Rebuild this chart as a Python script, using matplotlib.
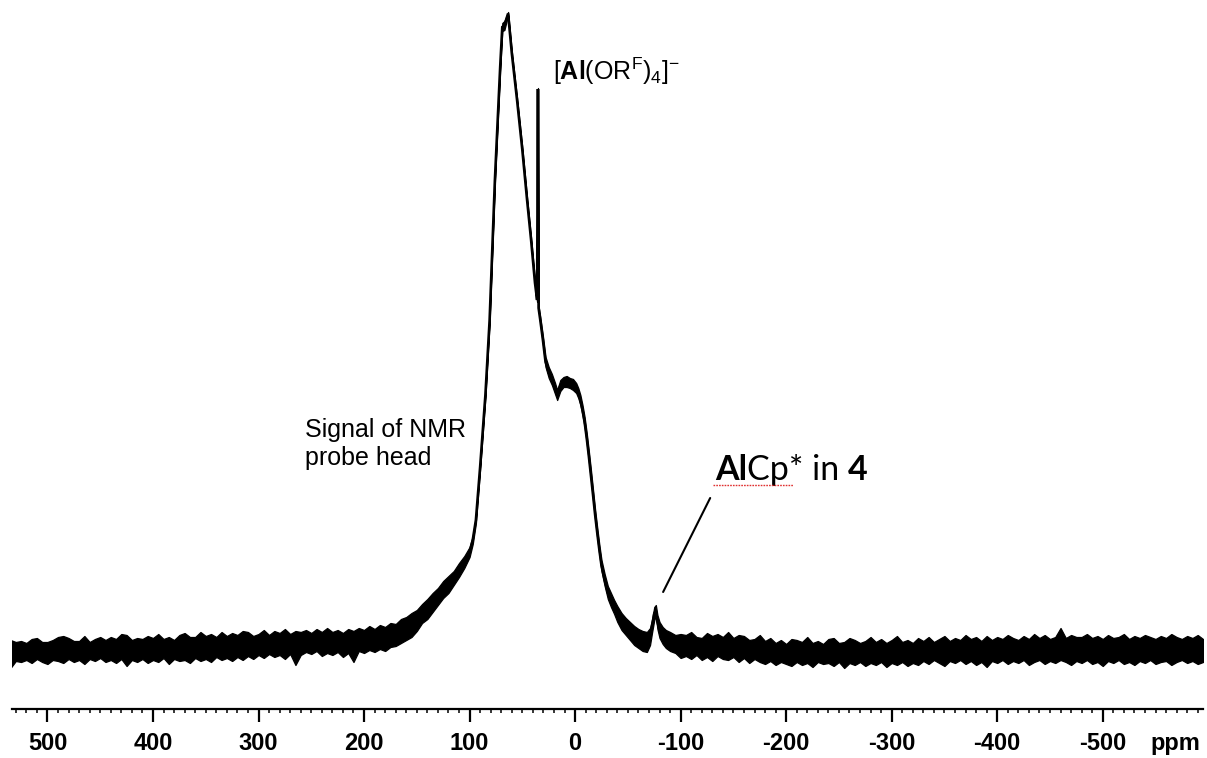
import numpy as np
import matplotlib
matplotlib.use("Agg")
import matplotlib.pyplot as plt
from matplotlib.ticker import MultipleLocator

plt.rcParams['font.family'] = ['Liberation Sans', 'DejaVu Sans']
plt.rcParams['mathtext.fontset'] = 'custom'
plt.rcParams['mathtext.rm'] = 'Liberation Sans'
plt.rcParams['mathtext.bf'] = 'Liberation Sans:bold'
plt.rcParams['mathtext.it'] = 'Liberation Sans:italic'

# 27Al NMR trace: upper / lower edge of the noisy line (arbitrary units)
# low-field baseline, 535 ... 155 ppm
base_left_ppm = np.arange(535, 154, -5)
base_left_hi = [10, 8, 9, 7, 11, 12, 8, 8, 10, 13, 14, 12, 9, 9, 14, 8, 11, 13, 10, 13,
                11, 16, 15, 10, 12, 11, 14, 12, 16, 11, 13, 10, 15, 17, 13, 13, 18, 14, 16, 13,
                18, 14, 17, 15, 19, 18, 14, 16, 20, 15, 19, 17, 21, 16, 19, 18, 20, 17, 21, 18,
                22, 18, 20, 17, 21, 19, 22, 20, 24, 21, 25, 23, 27, 26, 31, 33, 37]
base_left_lo = [-18, -11, -12, -10, -13, -9, -12, -14, -10, -11, -13, -9, -12, -10, -14, -9, -11, -8, -12, -10,
                -13, -9, -16, -10, -12, -9, -13, -10, -12, -8, -14, -9, -11, -10, -13, -8, -11, -9, -12, -7,
                -10, -8, -11, -7, -10, -6, -9, -5, -8, -4, -7, -5, -9, -4, -15, -5, -2, -4, -1, -6,
                -3, -5, -2, -7, -3, -12, -1, -3, 0, -2, 1, -1, 3, 4, 7, 10, 13]

# main resonance region
peak_ppm = [150, 145, 140, 135, 130, 125, 120, 115, 110, 105, 100, 97, 94, 90, 85, 81, 76, 71, 69, 67,
            63.5, 60, 55, 50, 45.5, 41.7, 38, 36, 35.2, 34.6, 33, 30.5, 28, 25, 22, 19, 17, 14, 11, 8,
            5, 2, -1, -3, -5, -7, -9, -11, -13, -15, -17, -19, -21, -23, -25, -28, -31, -34, -37, -40,
            -44, -48, -52, -56, -60, -64, -68, -71, -73, -75, -76.5, -78, -80, -83, -86, -90, -95]
peak_hi = [40, 46, 51, 57, 62, 69, 74, 79, 87, 94, 103, 114, 133, 185, 257, 332, 472, 585, 627, 629,
           638, 599, 552, 502, 452, 412, 369, 352, 562, 344, 333, 314, 293, 283, 276, 267, 260, 270, 273, 274,
           272, 271, 267, 262, 255, 245, 233, 217, 199, 180, 160, 140, 122, 105, 90, 76, 64, 57, 50, 44,
           37, 32, 28, 24, 21, 19, 18, 22, 31, 43, 45, 35, 28, 23, 20, 18, 15]
peak_lo = [19, 27, 31, 38, 45, 52, 57, 65, 73, 82, 93, 106, 127, 181, 253, 328, 468, 581, 619, 620,
           635, 595, 548, 498, 448, 408, 365, 348, 560, 340, 327, 306, 283, 272, 265, 256, 250, 259, 263, 263,
           262, 260, 257, 252, 245, 235, 223, 207, 189, 170, 150, 130, 112, 95, 79, 64, 51, 43, 36, 28,
           20, 15, 10, 5, 2, -1, -2, 5, 18, 30, 34, 21, 12, 6, 2, -1, -3]

# high-field baseline, -100 ... -595 ppm
base_right_ppm = np.arange(-100, -596, -5)
base_right_hi = [16, 15, 18, 13, 12, 17, 14, 16, 13, 18, 12, 15, 14, 10, 11, 15, 9, 12, 7, 10,
                 6, 11, 10, 8, 13, 7, 9, 6, 11, 12, 7, 8, 12, 10, 7, 9, 13, 8, 11, 7,
                 10, 14, 8, 10, 7, 12, 9, 13, 8, 11, 14, 9, 12, 10, 15, 11, 13, 9, 14, 10,
                 13, 11, 15, 12, 10, 14, 11, 16, 12, 15, 11, 13, 22, 12, 15, 13, 13, 16, 12, 14,
                 11, 15, 12, 13, 16, 11, 14, 12, 15, 13, 11, 14, 12, 16, 13, 11, 14, 12, 15, 11]
base_right_lo = [-8, -6, -9, -5, -10, -7, -11, -6, -9, -10, -7, -12, -8, -13, -9, -12, -14, -11, -15, -12,
                 -14, -16, -12, -15, -13, -17, -12, -14, -13, -16, -12, -18, -13, -15, -12, -16, -13, -15, -12, -17,
                 -13, -15, -12, -16, -13, -15, -11, -14, -10, -13, -16, -11, -13, -10, -14, -11, -15, -12, -17, -11,
                 -13, -10, -14, -11, -13, -10, -15, -12, -10, -14, -11, -13, -10, -12, -15, -11, -13, -10, -14, -12,
                 -16, -11, -13, -10, -14, -12, -15, -11, -13, -10, -14, -12, -11, -15, -12, -10, -13, -11, -14, -12]

tick_values = [500, 400, 300, 200, 100, 0, -100, -200, -300, -400, -500]
tick_labels = ['500', '400', '300', '200', '100', '0', '-100', '-200', '-300', '-400', '-500']

ppm = np.concatenate([base_left_ppm, np.array(peak_ppm, float), base_right_ppm])
hi = np.concatenate([base_left_hi, peak_hi, base_right_hi]).astype(float)
lo = np.concatenate([base_left_lo, peak_lo, base_right_lo]).astype(float)
mid = (hi + lo) / 2

fig = plt.figure(figsize=(12.07, 7.58), dpi=100)
ax = fig.add_axes([12 / 1207, 49 / 758, 1191 / 1207, 709 / 758])

ax.fill_between(ppm, lo, hi, color='black', lw=0.9, zorder=2)
ax.plot(ppm, mid, color='black', lw=1.9, solid_joinstyle='miter', zorder=3)

ax.set_xlim(533.6, -595)
ax.set_ylim(-59, 650)

for side in ('top', 'left', 'right'):
    ax.spines[side].set_visible(False)
ax.spines['bottom'].set_linewidth(1.6)
ax.set_yticks([])
ax.set_xticks(tick_values)
ax.set_xticklabels(tick_labels, fontsize=17, fontweight='bold')
ax.xaxis.set_minor_locator(MultipleLocator(10))
ax.tick_params(axis='x', which='major', direction='out', length=9, width=1.6, pad=7.5)
ax.tick_params(axis='x', which='minor', direction='out', length=3, width=1.1)

ax.text(-545, -100, 'ppm', fontsize=17, fontweight='bold', ha='left', va='baseline', clip_on=False)

# annotations
ax.text(255.9, 213, 'Signal of NMR', fontsize=18, ha='left', va='baseline')
ax.text(255.9, 185, 'probe head', fontsize=18, ha='left', va='baseline')

ax.text(20.9, 570, r'$[\mathbf{Al}(\mathrm{OR}^{\mathrm{F}})_{\mathrm{4}}]^{-}$', fontsize=18,
        ha='left', va='baseline')

lab_kw = dict(fontsize=24.5, family=['Lato', 'DejaVu Sans'])
t1 = ax.text(-132.7, 170, 'Al', fontweight='bold', ha='left', va='baseline', **lab_kw)
t2 = ax.annotate('Cp* in', xy=(1, 0), xycoords=t1, ha='left', va='bottom', **lab_kw)
t3 = ax.annotate('4', xy=(1, 0), xycoords=t2, xytext=(6, 0), textcoords='offset points',
                 ha='left', va='bottom', fontweight='bold', **lab_kw)
ax.plot([-130.8, -206.6], [165, 165], color='#e03030', lw=1.0, ls=(0, (1.2, 0.8)), zorder=4)

ax.annotate('', xy=(-83.4, 58), xytext=(-128, 152),
            arrowprops=dict(arrowstyle='-', lw=1.5, color='black', shrinkA=0, shrinkB=0))

fig.savefig('out.png', dpi=100)
